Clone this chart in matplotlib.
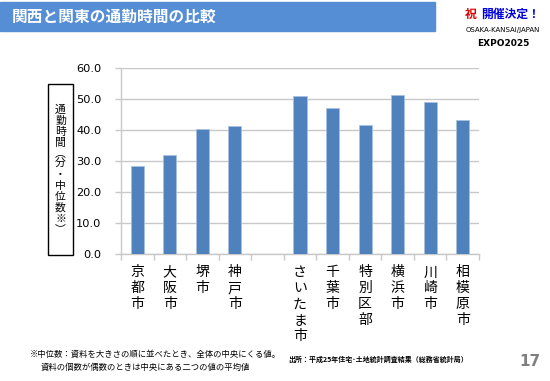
import numpy as np
import matplotlib.pyplot as plt
from matplotlib.patches import Rectangle

plt.rcParams['font.family'] = ['Noto Sans CJK JP', 'DejaVu Sans']

# data
kansai = ['京都市', '大阪市', '堺市', '神戸市']
kansai_vals = [28.5, 31.9, 40.4, 41.3]
kanto = ['さいたま市', '千葉市', '特別区部', '横浜市', '川崎市', '相模原市']
kanto_vals = [51.1, 47.2, 41.7, 51.5, 49.1, 43.2]
yticks = [0, 10, 20, 30, 40, 50, 60]

title = '関西と関東の通勤時間の比較'
ylabel = '通勤時間︵分・中位数※︶'
note1 = '※中位数：資料を大きさの順に並べたとき、全体の中央にくる値。'
note2 = '資料の個数が偶数のときは中央にある二つの値の平均値'
source = '出所：平成25年住宅･土地統計調査結果（総務省統計局）'

# one empty slot between the two regions
names = kansai + [''] + kanto
vals = kansai_vals + [np.nan] + kanto_vals
x = np.arange(len(names))

fig = plt.figure(figsize=(5.5, 3.81), dpi=100)
ax = fig.add_axes([121 / 550, 1 - 254.3 / 381, 358 / 550, 186 / 381])

ax.bar(x, vals, width=0.4, color='#4F81BD', edgecolor='#A9C1E0', linewidth=0.6, zorder=3)

ax.set_xlim(-0.5, len(names) - 0.5)
ax.set_ylim(0, 60)
ax.set_yticks(yticks)
ax.set_yticklabels(['%.1f' % v for v in yticks], fontsize=8.2, family='DejaVu Sans')
ax.grid(axis='y', color='#C8C8C8', linewidth=1, zorder=0)

ax.set_xticks(x)
ax.set_xticklabels(['\n'.join(n) for n in names], fontsize=10, va='top', linespacing=1.18)
ax.set_xticks(np.arange(len(names) + 1) - 0.5, minor=True)
ax.tick_params(axis='x', which='major', length=0, pad=8)
ax.tick_params(axis='x', which='minor', length=4, color='#C8C8C8', width=1)
ax.tick_params(axis='y', length=4, color='#C8C8C8', width=1, pad=10)

for s in ['top', 'right']:
    ax.spines[s].set_visible(False)
for s in ['left', 'bottom']:
    ax.spines[s].set_color('#C8C8C8')
    ax.spines[s].set_linewidth(1)

# y-axis label box
fig.patches.append(Rectangle((48 / 550, 1 - 255 / 381), 25 / 550, 171 / 381,
                             transform=fig.transFigure, fill=False,
                             edgecolor='black', linewidth=1))
fig.text(60.5 / 550, 1 - 169.5 / 381, '\n'.join(ylabel), fontsize=7.8,
         ha='center', va='center', linespacing=1.1)

# header
fig.patches.append(Rectangle((0, 1 - 31 / 381), 435 / 550, 29 / 381,
                             transform=fig.transFigure, color='#558ED5'))
fig.text(12 / 550, 1 - 17 / 381, title, fontsize=11.3, color='white',
         weight='bold', va='center')
fig.text(465 / 550, 1 - 14 / 381, '祝', fontsize=8.5, color='#E00000',
         weight='bold', va='center')
fig.text(481 / 550, 1 - 14 / 381, '開催決定！', fontsize=8.5, color='#0000E0',
         weight='bold', va='center')
fig.text(503 / 550, 1 - 30 / 381, 'OSAKA-KANSAI/JAPAN', fontsize=5,
         family='DejaVu Sans', ha='center', va='center')
fig.text(503 / 550, 1 - 44 / 381, 'EXPO2025', fontsize=6.5, family='DejaVu Sans',
         weight='bold', ha='center', va='center')

# footer
fig.text(30 / 550, 1 - 354 / 381, note1, fontsize=6, va='center')
fig.text(41 / 550, 1 - 367 / 381, note2, fontsize=6, va='center')
fig.text(288 / 550, 1 - 359 / 381, source, fontsize=5, weight='bold', va='center')
fig.text(540 / 550, 1 - 362 / 381, '17', fontsize=11, color='#7F7F7F',
         weight='bold', family='DejaVu Sans', ha='right', va='center')

fig.savefig('out.png', dpi=100)
